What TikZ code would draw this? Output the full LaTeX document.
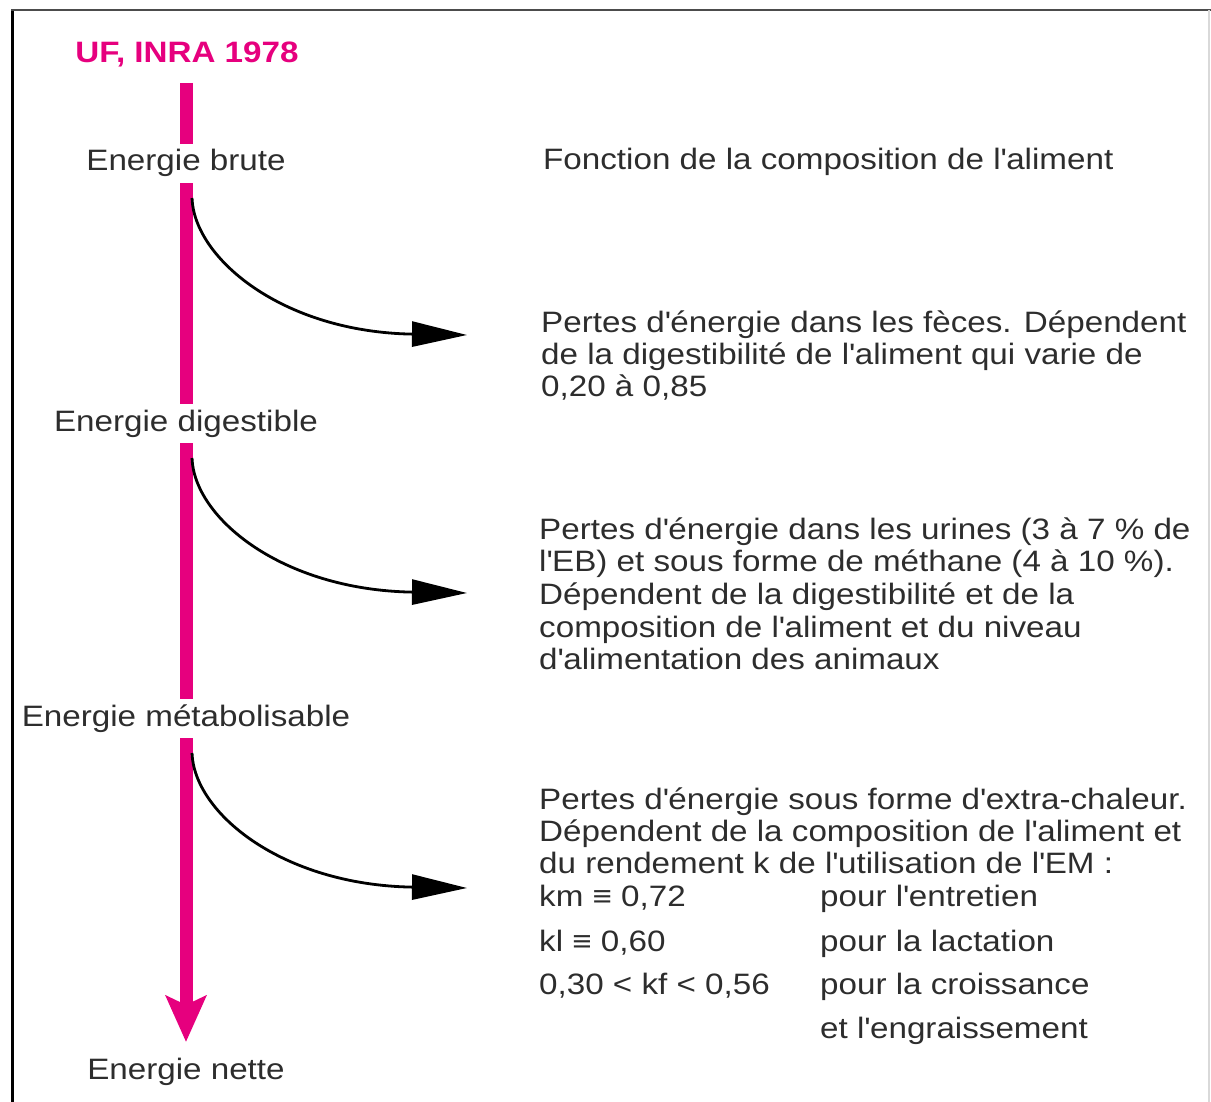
\documentclass[tikz,border=0pt]{standalone}
\usepackage{fontspec}
\setmainfont{Liberation Sans}[FakeStretch=1.125]
\usetikzlibrary{arrows.meta}
\definecolor{pinkax}{RGB}{230,0,126}
\definecolor{txtgray}{RGB}{45,45,45}
\newcommand{\apos}{\textquotesingle}
\begin{document}
\begin{tikzpicture}[x=1pt,y=-1pt,
  txt/.style={anchor=base west, inner sep=0pt, text=txtgray, font=\fontsize{29.5}{32.4}\selectfont},
  lab/.style={anchor=base, fill=white, inner xsep=4pt, inner ysep=6pt, text height=21pt, text depth=6pt, text=txtgray, font=\fontsize{29.5}{32.4}\selectfont},
  loss/.style={line width=2.8pt, black, -{Triangle[length=55pt,width=25pt]}},
  axis/.style={line width=13pt, pinkax, -{Stealth[length=46pt,width=40pt,inset=9pt]}}
]
\useasboundingbox (0,0) rectangle (1211,1102);
% frame
\draw[line width=3pt, black] (12,1102) -- (12,10);
\draw[line width=2pt, black!70] (11,10) -- (1211,10);
\draw[line width=1.5pt, black!15] (1209,10) -- (1209,1102);
% title
\node[anchor=base, inner sep=0pt, text=pinkax, font=\fontsize{29.5}{32}\selectfont\bfseries] (title) at (187,63) {UF, INRA 1978};
% axis
\coordinate (axtop) at (186,83);
\coordinate (axbot) at (186,1042);
\draw[axis] (axtop) -- (axbot);
% labels on the axis
\node[lab] (eb) at (186,171) {Energie brute};
\node[lab] (ed) at (186,431) {Energie digestible};
\node[lab] (em) at (186,726) {Energie métabolisable};
\node[lab, fill=none] (en) at (186,1079) {Energie nette};
% loss arrows
\coordinate (s1) at (192,198); \coordinate (e1) at (467,335);
\coordinate (s2) at (192,458); \coordinate (e2) at (467,593);
\coordinate (s3) at (192,753); \coordinate (e3) at (467,888);
\draw[loss] (s1) .. controls +(2,60) and +(-185,-3) .. (e1);
\draw[loss] (s2) .. controls +(2,60) and +(-185,-3) .. (e2);
\draw[loss] (s3) .. controls +(2,60) and +(-185,-3) .. (e3);
% right texts
\node[txt] (f1) at (543,170) {Fonction de la composition de l\apos aliment};
\node[txt] (a1) at (541,332) {Pertes d\apos énergie dans les fèces. Dépendent};
\node[txt] (a2) at (541,364) {de la digestibilité de l\apos aliment qui varie de};
\node[txt] (a3) at (541,396) {0,20 à 0,85};
\node[txt] (b1) at (539,539) {Pertes d\apos énergie dans les urines (3 à 7 \% de};
\node[txt] (b2) at (539,571) {l\apos EB) et sous forme de méthane (4 à 10 \%).};
\node[txt] (b3) at (539,604) {Dépendent de la digestibilité et de la};
\node[txt] (b4) at (539,637) {composition de l\apos aliment et du niveau};
\node[txt] (b5) at (539,669) {d\apos alimentation des animaux};
\node[txt] (c1) at (539,809) {Pertes d\apos énergie sous forme d\apos extra-chaleur.};
\node[txt] (c2) at (539,841) {Dépendent de la composition de l\apos aliment et};
\node[txt] (c3) at (539,873) {du rendement k de l\apos utilisation de l\apos EM :};
\node[txt] (k1) at (539,906) {km ≡ 0,72};
\node[txt] (k2) at (539,951) {kl ≡ 0,60};
\node[txt] (k3) at (539,994) {0,30 < kf < 0,56};
\node[txt] (p1) at (820,906) {pour l\apos entretien};
\node[txt] (p2) at (820,951) {pour la lactation};
\node[txt] (p3) at (820,994) {pour la croissance};
\node[txt] (p4) at (820,1038) {et l\apos engraissement};
\end{tikzpicture}
\end{document}
